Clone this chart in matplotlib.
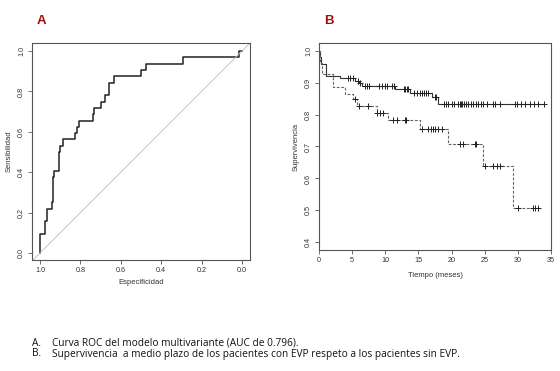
import numpy as np
import matplotlib
matplotlib.use("Agg")
import matplotlib.pyplot as plt

# Panel A: ROC curve (specificity, sensitivity at each step)
roc_spec = [1.0, 1.0, 0.975, 0.968, 0.943, 0.938, 0.93, 0.908, 0.901, 0.887, 0.825, 0.818,
            0.807, 0.739, 0.733, 0.70, 0.678, 0.658, 0.632, 0.5, 0.475, 0.292, 0.015, 0.0]
roc_sens = [0.0, 0.094, 0.156, 0.219, 0.25, 0.375, 0.406, 0.5, 0.531, 0.5625, 0.594, 0.625,
            0.656, 0.6875, 0.719, 0.75, 0.781, 0.844, 0.875, 0.906, 0.9375, 0.969, 1.0, 1.0]

# Panel B: Kaplan-Meier curves (event times / survival levels / censor times)
t_no = [0, 0.1, 0.3, 1.0, 3.1, 5.5, 6.0, 6.5, 11.5, 13.8, 17.0, 17.9]
s_no = [1.0, 0.979, 0.958, 0.921, 0.914, 0.906, 0.898, 0.888, 0.879, 0.866, 0.855, 0.832]
cens_no = [4.4, 4.7, 5.1, 5.9, 6.2, 6.9, 7.3, 7.6, 9.1, 9.5, 9.9, 10.3, 11.0, 11.3, 12.8, 13.0,
           13.3, 13.5, 14.4, 14.8, 15.2, 15.5, 15.9, 16.2, 16.4, 17.5, 17.7, 18.8, 19.2, 19.5,
           20.0, 20.4, 21.0, 21.2, 21.4, 21.5, 21.8, 22.2, 22.5, 22.9, 23.3, 23.7, 24.0, 24.4,
           24.8, 25.3, 26.2, 26.5, 27.3, 29.6, 29.9, 30.5, 31.1, 31.8, 32.4, 33.1, 33.9]
end_no = 33.9

t_evp = [0, 0.2, 0.5, 2.1, 3.9, 5.2, 5.7, 8.7, 10.4, 15.2, 19.4, 24.8, 29.3]
s_evp = [1.0, 0.96, 0.926, 0.885, 0.864, 0.848, 0.827, 0.806, 0.783, 0.754, 0.708, 0.638, 0.509]
cens_evp = [5.4, 6.0, 7.4, 8.8, 9.2, 9.7, 11.2, 11.7, 13.0, 13.1, 15.5, 16.5, 16.9, 17.2, 17.5,
            18.0, 18.5, 21.3, 21.7, 23.6, 23.7, 25.1, 26.3, 26.8, 27.3, 30.0, 32.3, 32.6, 33.1]
end_evp = 33.4

captions = ["Curva ROC del modelo multivariante (AUC de 0.796).",
            "Supervivencia  a medio plazo de los pacientes con EVP respeto a los pacientes sin EVP."]

plt.rcParams['font.family'] = ['Liberation Sans', 'DejaVu Sans']
fig = plt.figure(figsize=(5.6, 3.71), dpi=100)
W, H = 560, 371

def px_axes(l, t, r, b):
    return fig.add_axes([l / W, 1 - b / H, (r - l) / W, (b - t) / H])

def style(ax):
    for sp in ax.spines.values():
        sp.set_color('#555555')
        sp.set_linewidth(0.8)
    ax.tick_params(length=3, width=0.6, color='#555555', labelsize=5.2, pad=2, labelcolor='#333333')
    for lab in ax.get_yticklabels():
        lab.set_rotation(90)
        lab.set_va('center')

# ---- A ----
axA = px_axes(32, 43, 250, 260)
axA.step(roc_spec, roc_sens, where='post', color='#222222', lw=1.1)
axA.axline((1, 0), (0, 1), color='#bbbbbb', lw=0.6)
axA.set_xlim(1.04, -0.04)
axA.set_ylim(-0.035, 1.04)
axA.set_xticks([1.0, 0.8, 0.6, 0.4, 0.2, 0.0])
axA.set_yticks([0.0, 0.2, 0.4, 0.6, 0.8, 1.0])
axA.xaxis.set_major_formatter(matplotlib.ticker.FormatStrFormatter('%.1f'))
axA.yaxis.set_major_formatter(matplotlib.ticker.FormatStrFormatter('%.1f'))
style(axA)
axA.set_xlabel('Especificidad', fontsize=5.5, color='#333333', labelpad=4)
axA.set_ylabel('Sensibilidad', fontsize=5.5, color='#333333', labelpad=4)

# ---- B ----
axB = px_axes(319, 43, 551, 250)

def km(ax, t, s, cens, end, ls, color):
    x = np.append(t, end)
    y = np.append(s, s[-1])
    ax.step(x, y, where='post', color=color, lw=0.8, linestyle=ls)
    idx = np.searchsorted(t, cens, side='right') - 1
    ax.plot(cens, np.array(s)[idx], '+', color='#222222', ms=4.5, mew=0.7)

km(axB, t_no, s_no, cens_no, end_no, '-', '#333333')
km(axB, t_evp, s_evp, cens_evp, end_evp, (0, (2.5, 1.5)), '#666666')
axB.set_xlim(0, 35)
axB.set_ylim(0.376, 1.024)
axB.set_xticks(np.arange(0, 36, 5))
axB.set_yticks([0.4, 0.5, 0.6, 0.7, 0.8, 0.9, 1.0])
axB.yaxis.set_major_formatter(matplotlib.ticker.FormatStrFormatter('%.1f'))
style(axB)
axB.set_xlabel('Tiempo (meses)', fontsize=5.5, color='#333333', labelpad=6)
axB.set_ylabel('Supervivencia', fontsize=5.5, color='#333333', labelpad=4)

# panel letters
fig.text(37 / W, 1 - 21 / H, 'A', color='#a01010', fontsize=9.5, fontweight='bold', va='center')
fig.text(324 / W, 1 - 21 / H, 'B', color='#a01010', fontsize=9.5, fontweight='bold', va='center')

# captions
for i, (letter, cap) in enumerate(zip(['A.', 'B.'], captions)):
    y = 1 - (343 + 11 * i) / H
    fig.text(32 / W, y, letter, fontsize=7.3, color='#111111', va='center', family=['Open Sans', 'DejaVu Sans'])
    fig.text(52 / W, y, cap, fontsize=7.3, color='#111111', va='center', family=['Open Sans', 'DejaVu Sans'])

fig.savefig('out.png', dpi=100)
